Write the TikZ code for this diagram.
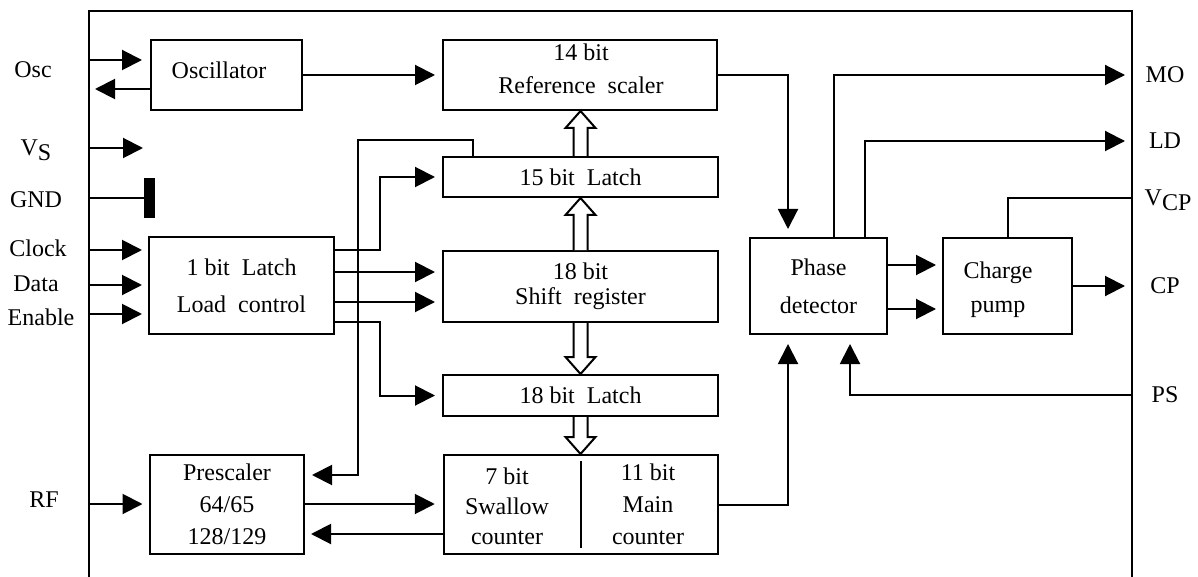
\documentclass[tikz,border=0pt]{standalone}
\usepackage{fontspec}
\setmainfont{Liberation Serif}
\usetikzlibrary{arrows.meta,calc}
\tikzset{
 box/.style={draw, line width=1pt, inner sep=0pt, align=center},
 wire/.style={line width=1pt},
 arr/.style={wire, -{Triangle[length=10pt,width=10pt]}},
 lbl/.style={inner sep=0pt, align=center},
 bus/.style={draw, line width=1pt, fill=white, line join=miter},
}
\newcommand\busarrow[2]{%
 \draw[bus] let \p1=(#1), \p2=(#2), \p3=($(#2)!8.5pt!(#1)$) in
 (\x1-3.5pt,\y1) -- (\x1-3.5pt,\y3) -- (\x1-7.5pt,\y3) -- (\x1,\y2) -- (\x1+7.5pt,\y3) -- (\x1+3.5pt,\y3) -- (\x1+3.5pt,\y1);}
\begin{document}
\begin{tikzpicture}[x=0.5pt,y=-0.5pt,font=\fontsize{12}{14}\selectfont]
\useasboundingbox (0,0) rectangle (1198,577);
% frame
\draw[wire] (89,577) -- (89,11) -- (1132,11) -- (1132,577);
% pins
\coordinate (pOscI) at (89,60);
\coordinate (oscOut) at (95,89);
\coordinate (pVS) at (89,148);
\coordinate (vsEnd) at (143,148);
\coordinate (pGND) at (89,198);
\coordinate (pClk) at (89,250);
\coordinate (pData) at (89,285);
\coordinate (pEn) at (89,314);
\coordinate (pRF) at (89,504);
\coordinate (pMO) at (1132,75);
\coordinate (pLD) at (1132,141);
\coordinate (pVCP) at (1132,198);
\coordinate (pCP) at (1132,286);
\coordinate (pPS) at (1132,395);
% blocks
\node[box, minimum width=75.5pt, minimum height=35pt] (osc) at (226.5,75) {};
\node[lbl] (osct) at (219,70) {Oscillator};
\node[box, minimum width=137pt, minimum height=35pt] (ref) at (580,75) {};
\node[lbl, font=\fontsize{12}{16.5}\selectfont] (reft) at (581,68.5) {14 bit\\Reference~~scaler};
\node[box, minimum width=137.5pt, minimum height=20pt] (l15) at (580.5,177) {15 bit~~Latch};
\node[box, minimum width=137.5pt, minimum height=35.5pt, font=\fontsize{12}{12.5}\selectfont] (sr) at (580.5,286.5) {18 bit\\Shift~~register};
\node[box, minimum width=137.5pt, minimum height=20.5pt] (l18) at (580.5,395.5) {18 bit~~Latch};
\node[box, minimum width=137pt, minimum height=49.5pt] (cnt) at (580.75,504.5) {};
\node[lbl, font=\fontsize{12}{15}\selectfont] (swt) at (507,506) {7 bit\\Swallow\\counter};
\node[lbl, font=\fontsize{12}{16}\selectfont] (mct) at (648,504) {11 bit\\Main\\counter};
\node[box, minimum width=92.5pt, minimum height=48.5pt, font=\fontsize{12}{18.5}\selectfont] (lc) at (241.5,285.5) {1 bit~~Latch\\Load~~control};
\node[box, minimum width=77pt, minimum height=49.5pt, font=\fontsize{12}{16}\selectfont] (pre) at (227,504.5) {Prescaler\\64/65\\128/129};
\node[box, minimum width=68.5pt, minimum height=48pt, font=\fontsize{12}{19}\selectfont] (pd) at (818.5,286) {Phase\\detector};
\node[box, minimum width=64.5pt, minimum height=48pt] (cp) at (1007.5,286) {};
\node[lbl, font=\fontsize{12}{17}\selectfont] (cpt) at (998,290) {Charge\\pump};
\node[fill, minimum width=5.5pt, minimum height=20pt, inner sep=0pt] (gnd) at (149.5,198) {};
% counter divider
\draw[wire] ($(cnt.center)+(0,-43.5)$) -- ($(cnt.center)+(0,43.5)$);
% bus arrows
\busarrow{l15.north}{ref.south}
\busarrow{sr.north}{l15.south}
\busarrow{sr.south}{l18.north}
\busarrow{l18.south}{cnt.north}
% left pins
\draw[arr, shorten >=4pt] (pOscI) -- (pOscI -| osc.west);
\draw[arr] (osc.west |- oscOut) -- (oscOut);
\draw[arr] (pVS) -- (vsEnd);
\draw[wire] (pGND) -- (gnd);
\draw[arr, shorten >=3pt] (pClk) -- (pClk -| lc.west);
\draw[arr, shorten >=3pt] (pData) -- (pData -| lc.west);
\draw[arr, shorten >=3pt] (pEn) -- (pEn -| lc.west);
\draw[arr, shorten >=3.25pt] (pRF) -- (pRF -| pre.west);
% internal
\draw[arr, shorten >=3.5pt] (osc) -- (ref);
\draw[arr, shorten >=3.5pt] (lc.east |- 0,250) -- (380,250) |- (l15.west);
\draw[arr, shorten >=3.5pt] (lc.east |- 0,272) -- (sr.west |- 0,272);
\draw[arr, shorten >=3.5pt] (lc.east |- 0,302) -- (sr.west |- 0,302);
\draw[arr, shorten >=3.5pt] (lc.east |- 0,322) -- (380,322) |- (l18.west);
\draw[arr, shorten >=3.5pt] (l15.north -| 473,0) |- (358,140) |- (pre.east |- 0,475);
\draw[arr, shorten >=4pt] (pre.east |- 0,504) -- (cnt.west |- 0,504);
\draw[arr, shorten >=3pt] (cnt.west |- 0,534) -- (pre.east |- 0,534);
\draw[arr, shorten >=4.5pt] (cnt.east) -| (pd.south -| 788,0);
\draw[arr, shorten >=4pt] (ref.east) -| (pd.north -| 788,0);
\draw[arr, shorten >=3.5pt] (pd.north -| 834,0) |- (pMO);
\draw[arr, shorten >=3.5pt] (pd.north -| 865,0) |- (pLD);
\draw[wire] (pVCP) -| (cp.north);
\draw[arr, shorten >=3pt] (pd.east |- 0,265) -- (cp.west |- 0,265);
\draw[arr, shorten >=3pt] (pd.east |- 0,309) -- (cp.west |- 0,309);
\draw[arr, shorten >=3.5pt] (cp.east) -- (pCP);
\draw[arr, shorten >=4.5pt] (pPS) -| (pd.south -| 850,0);
% labels
\node[lbl] (tOsc) at (33,70) {Osc};
\node[lbl] (tVS) at (36,150) {V\raisebox{-0.45ex}{S}};
\node[lbl] (tGND) at (36,200) {GND};
\node[lbl] (tClk) at (38,248) {Clock};
\node[lbl] (tData) at (36,284) {Data};
\node[lbl] (tEn) at (41,317) {Enable};
\node[lbl] (tRF) at (44,500) {RF};
\node[lbl] (tMO) at (1165,75) {MO};
\node[lbl] (tLD) at (1165,141) {LD};
\node[lbl] (tVCP) at (1168,200) {V\raisebox{-0.45ex}{CP}};
\node[lbl] (tCP) at (1165,286) {CP};
\node[lbl] (tPS) at (1165,395) {PS};
\end{tikzpicture}
\end{document}
